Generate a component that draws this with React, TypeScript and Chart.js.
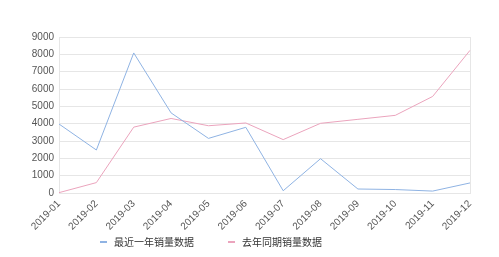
import React, { useEffect, useRef } from "react";
import { Chart, registerables } from "chart.js";

Chart.register(...registerables);

const categories = ["2019-01","2019-02","2019-03","2019-04","2019-05","2019-06","2019-07","2019-08","2019-09","2019-10","2019-11","2019-12"];
const recentYear = [3980, 2480, 8080, 4620, 3150, 3790, 130, 1980, 230, 200, 110, 580];
const lastYear = [20, 600, 3800, 4300, 3880, 4040, 3080, 4020, 4250, 4480, 5570, 8230];
const seriesNames = ["最近一年销量数据", "去年同期销量数据"];
const seriesColors = ["#8fb3e3", "#eba4bd"];

const legendPlugin = {
  id: "customLegend",
  afterDraw(chart: any) {
    const ctx = chart.ctx;
    const startX = 100;
    const itemStep = 128;
    const y = 242;
    ctx.save();
    ctx.font = "10px 'Noto Sans CJK SC', sans-serif";
    ctx.textBaseline = "middle";
    chart.data.datasets.forEach((ds: any, i: number) => {
      const x = startX + i * itemStep;
      ctx.fillStyle = ds.borderColor;
      ctx.fillRect(x, y - 1, 7, 2);
      ctx.fillStyle = "#333";
      ctx.fillText(ds.label, x + 14, y);
    });
    ctx.restore();
  },
};

export default function App() {
  const ref = useRef<HTMLCanvasElement | null>(null);
  useEffect(() => {
    document.body.style.margin = "0";
    const lastIdx = categories.length - 1;
    const chart = new Chart(ref.current!, {
      type: "line",
      data: {
        labels: categories,
        datasets: [
          { label: seriesNames[0], data: recentYear, borderColor: seriesColors[0], backgroundColor: seriesColors[0], borderWidth: 1, pointRadius: 0, tension: 0 },
          { label: seriesNames[1], data: lastYear, borderColor: seriesColors[1], backgroundColor: seriesColors[1], borderWidth: 1, pointRadius: 0, tension: 0 },
        ],
      },
      plugins: [legendPlugin],
      options: {
        animation: false,
        responsive: false,
        layout: { padding: { top: 37, right: 29, left: 0, bottom: 24 } },
        plugins: {
          tooltip: { enabled: false },
          legend: { display: false },
        },
        scales: {
          x: {
            offset: false,
            grid: {
              color: (ctx: any) => (ctx.index === 0 || ctx.index === lastIdx ? "#e6e6e6" : "rgba(0,0,0,0)"),
              drawTicks: false,
            },
            border: { color: "#e6e6e6" },
            ticks: {
              color: "#555",
              font: { size: 10, family: "'Liberation Sans', sans-serif" },
              maxRotation: 45,
              minRotation: 45,
              autoSkip: false,
              padding: 5,
            },
            afterFit: (s: any) => { s.height = 40; },
          },
          y: {
            min: 0,
            max: 9000,
            grid: { color: "#e6e6e6", drawTicks: false },
            border: { color: "#e6e6e6" },
            ticks: {
              stepSize: 1000,
              autoSkip: false,
              color: "#555",
              font: { size: 10, family: "'Liberation Sans', sans-serif" },
              padding: 5,
              callback: (v: any) => String(v),
            },
            afterFit: (s: any) => { s.width = 59; },
          },
        },
      },
    });
    return () => chart.destroy();
  }, []);
  return <canvas ref={ref} width={499} height={257} style={{ display: "block" }} />;
}
